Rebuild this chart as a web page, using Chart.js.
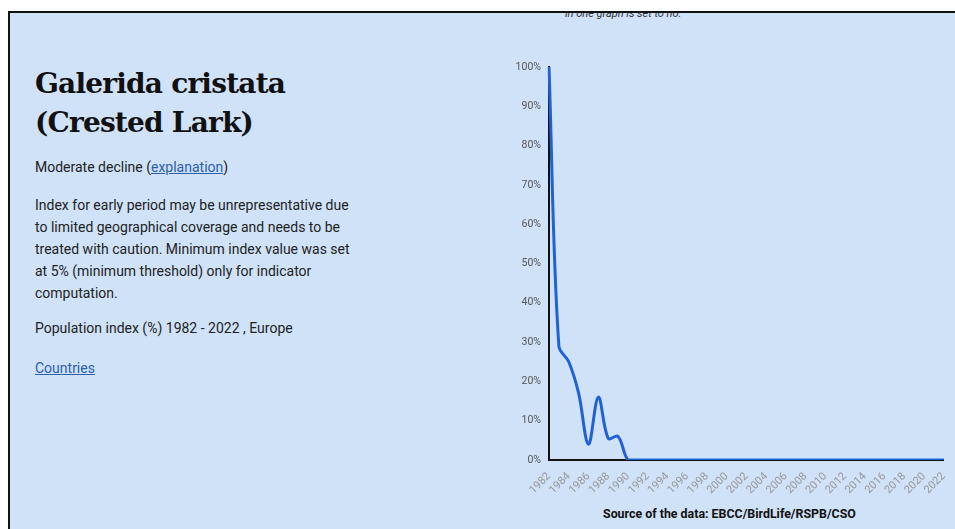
<!DOCTYPE html>
<html>
<head>
<meta charset="utf-8">
<script src="https://cdn.jsdelivr.net/npm/chart.js@4"></script>
<style>
  html, body { margin: 0; padding: 0; background: #fff; width: 955px; height: 529px; overflow: hidden; font-family: Roboto, "Noto Sans", sans-serif; }
  .panel { position: absolute; left: 8px; top: 11px; right: -10px; bottom: -10px; background: #cfe2f8; border-top: 2px solid #111; border-left: 2px solid #111; overflow: hidden; }
  .note { position: absolute; left: 555px; top: -6px; font-size: 11px; font-style: italic; color: #333; }
  .info { position: absolute; left: 25px; top: 51px; width: 322px; color: #222; }
  h1 { font-family: "DejaVu Serif", serif; font-weight: bold; font-size: 28px; line-height: 39px; margin: 0 0 14px 0; color: #111; letter-spacing: -0.8px; }
  p { font-size: 14px; line-height: 22px; margin: 0; }
  .status { margin-bottom: 16px; }
  .remark { margin-bottom: 13px; }
  .region { margin-bottom: 18px; }
  a { color: #2b5fa8; }
  .chart { position: absolute; left: 490px; top: 40px; width: 455px; height: 447px; }
  .source { position: absolute; left: 593px; top: 493px; font-size: 12.4px; font-weight: bold; color: #111; }
</style>
</head>
<body>
<div class="panel">
  <div class="note">in one graph is set to no.</div>
  <div class="info">
    <h1>Galerida cristata (Crested Lark)</h1>
    <p class="status">Moderate decline (<a href="#">explanation</a>)</p>
    <p class="remark">Index for early period may be unrepresentative due to limited geographical coverage and needs to be treated with caution. Minimum index value was set at 5% (minimum threshold) only for indicator computation.</p>
    <p class="region">Population index (%) 1982 - 2022 , Europe</p>
    <p><a href="#">Countries</a></p>
  </div>
  <div class="chart"><canvas id="lark"></canvas></div>
  <div class="source">Source of the data: EBCC/BirdLife/RSPB/CSO</div>
</div>
<script>
const years = ['1982', '1983', '1984', '1985', '1986', '1987', '1988', '1989', '1990', '1991',
  '1992', '1993', '1994', '1995', '1996', '1997', '1998', '1999', '2000', '2001',
  '2002', '2003', '2004', '2005', '2006', '2007', '2008', '2009', '2010', '2011',
  '2012', '2013', '2014', '2015', '2016', '2017', '2018', '2019', '2020', '2021', '2022'];
const indexValues = [100, 29, 25, 17, 4, 16, 5.5, 6, 0, 0,
  0, 0, 0, 0, 0, 0, 0, 0, 0, 0,
  0, 0, 0, 0, 0, 0, 0, 0, 0, 0,
  0, 0, 0, 0, 0, 0, 0, 0, 0, 0, 0];
const yTicks = [0, 10, 20, 30, 40, 50, 60, 70, 80, 90, 100];

const ctx = document.getElementById('lark').getContext('2d');
new Chart(ctx, {
  type: 'line',
  data: {
    labels: years,
    datasets: [{
      label: 'Population index',
      data: indexValues,
      borderColor: '#1f62d8',
      borderWidth: 3,
      pointRadius: 0,
      tension: 0.35,
      fill: false
    }]
  },
  options: {
    responsive: true,
    maintainAspectRatio: false,
    animation: false,
    layout: { padding: { top: 14, right: 9, left: 0, bottom: 0 } },
    plugins: { legend: { display: false }, tooltip: { enabled: false } },
    scales: {
      x: {
        offset: false,
        grid: { display: false },
        border: { display: true, color: '#111', width: 2 },
        afterFit: (s) => { s.height = 40; },
        ticks: {
          autoSkip: false,
          maxRotation: 45,
          minRotation: 45,
          padding: 2,
          color: '#999',
          font: { family: 'Roboto', size: 11 },
          callback: function (v, i) { return i % 2 === 0 ? years[i] : ''; }
        }
      },
      y: {
        min: 0,
        max: 100,
        grid: { display: false },
        border: { display: true, color: '#111', width: 2 },
        afterFit: (s) => { s.width = 49; },
        afterBuildTicks: (s) => { s.ticks = yTicks.map(v => ({ value: v })); },
        ticks: {
          padding: 0,
          color: '#555',
          font: { family: 'Roboto', size: 10.5 },
          callback: (v) => v + '%'
        }
      }
    }
  }
});
</script>
</body>
</html>
